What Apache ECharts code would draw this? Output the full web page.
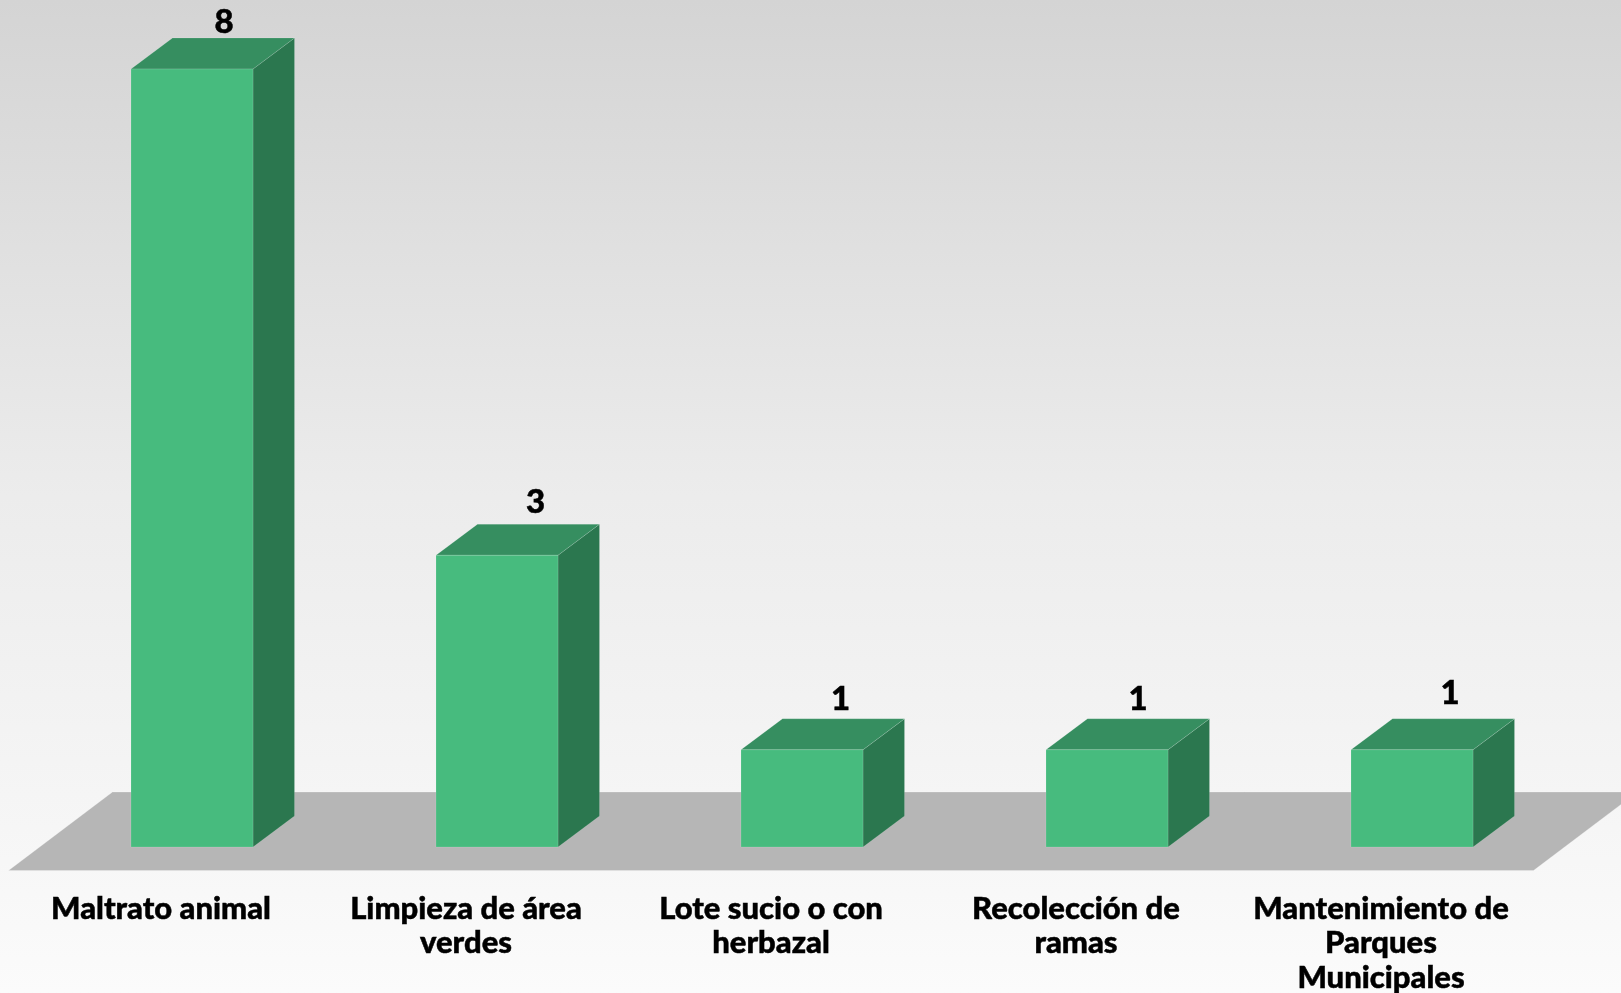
<!DOCTYPE html>
<html>
<head>
<meta charset="utf-8">
<style>html,body{margin:0;padding:0;background:#fff}#c{width:1621px;height:993px}</style>
<script src="https://cdn.jsdelivr.net/npm/echarts@6/dist/echarts.min.js"></script>
</head>
<body>
<div id="c"></div>
<script>
const categories = ["Maltrato animal", "Limpieza de área\nverdes", "Lote sucio o con\nherbazal", "Recolección de\nramas", "Mantenimiento de\nParques\nMunicipales"];
const values = [8, 3, 1, 1, 1];
// Hand-placed data-label nudges, relative to each bar's top back edge (style only)
const labelNudgeX = [32, 38.5, 38.5, 31, 38];
const labelNudgeY = [-15.5, -22, -19, -19, -25];

const FONT = '"Lato", sans-serif';
const floorDepthX = 104, floorDepthY = 78.5;
const barShiftX = 31, barShiftY = 23.5, barDepthX = 41.5, barDepthY = 31, barFrac = 0.4;
const colFront = '#47BB7E', colTop = '#368E60', colSide = '#2B774F', colFloor = '#B6B6B6';
const edge = 'rgba(255,255,255,0.22)';

const chart = echarts.init(document.getElementById('c'), null, {renderer: 'canvas'});
chart.setOption({
  animation: false,
  backgroundColor: new echarts.graphic.LinearGradient(0, 0, 0, 1, [
    {offset: 0, color: '#D4D4D4'}, {offset: 0.5, color: '#ECECEC'}, {offset: 1, color: '#FBFBFB'}
  ]),
  grid: {left: 8.5, width: 1525, top: 92.5, height: 778, containLabel: false, outerBoundsMode: 'none'},
  xAxis: {
    type: 'category', data: categories,
    axisLine: {show: false}, axisTick: {show: false},
    axisLabel: {
      interval: 0, margin: 21, color: '#000', fontFamily: FONT, fontWeight: 900,
      fontSize: 31, lineHeight: 34.5, align: 'center', verticalAlign: 'top',
      textBorderColor: '#000', textBorderWidth: 0.5
    }
  },
  yAxis: {type: 'value', min: 0, max: 8, show: false, splitLine: {show: false}},
  series: [
    {
      type: 'custom', z: 1, silent: true, clip: false, coordinateSystem: 'cartesian2d',
      data: [0],
      renderItem(params) {
        const g = params.coordSys;
        const L = g.x, R = g.x + g.width, B = g.y + g.height;
        return {
          type: 'polygon',
          shape: {points: [[L, B], [R, B], [R + floorDepthX, B - floorDepthY], [L + floorDepthX, B - floorDepthY]]},
          style: {fill: colFloor, stroke: edge, lineWidth: 1}
        };
      }
    },
    {
      type: 'custom', z: 2, silent: true, clip: false, coordinateSystem: 'cartesian2d',
      encode: {x: 0, y: 1},
      data: values.map((v, i) => [i, v]),
      renderItem(params, api) {
        const i = api.value(0), v = api.value(1);
        const top = api.coord([i, v]), base = api.coord([i, 0]);
        const w = api.size([1, 0])[0] * barFrac;
        const x0 = base[0] + barShiftX - w / 2, x1 = x0 + w;
        const yB = base[1] - barShiftY, yT = top[1] - barShiftY;
        const dx = barDepthX, dy = barDepthY;
        return {
          type: 'group',
          children: [
            {type: 'polygon', shape: {points: [[x1, yB], [x1 + dx, yB - dy], [x1 + dx, yT - dy], [x1, yT]]}, style: {fill: colSide, stroke: edge, lineWidth: 0.6}},
            {type: 'polygon', shape: {points: [[x0, yT], [x1, yT], [x1 + dx, yT - dy], [x0 + dx, yT - dy]]}, style: {fill: colTop, stroke: edge, lineWidth: 0.6}},
            {type: 'rect', shape: {x: x0, y: yT, width: w, height: yB - yT}, style: {fill: colFront, stroke: edge, lineWidth: 0.6}},
            {
              type: 'text',
              style: {
                text: String(v),
                x: base[0] + barShiftX + labelNudgeX[i], y: yT - dy + labelNudgeY[i],
                align: 'center', verticalAlign: 'middle',
                fill: '#000', fontFamily: FONT, fontWeight: 900, fontSize: 33,
                stroke: '#000', lineWidth: 0.5
              }
            }
          ]
        };
      }
    }
  ]
});
</script>
</body>
</html>
